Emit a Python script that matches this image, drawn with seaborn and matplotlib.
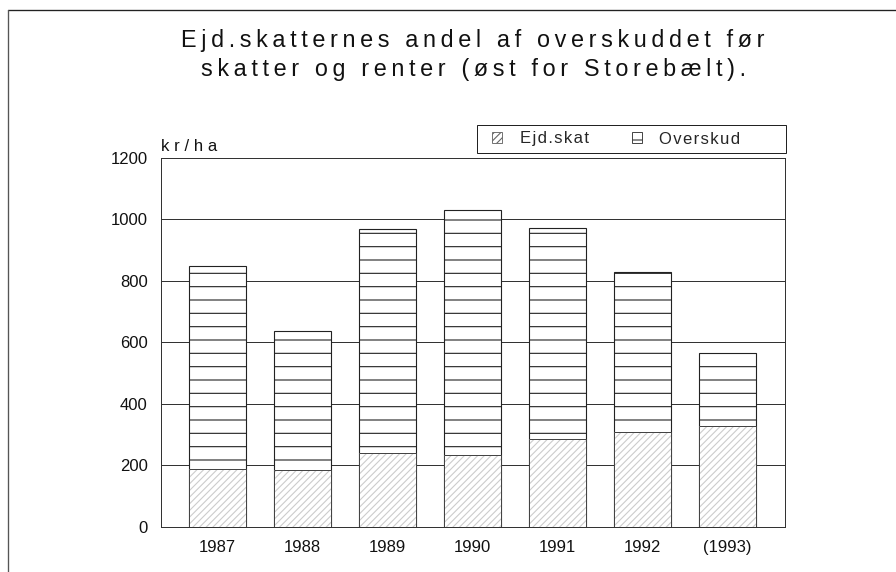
import numpy as np
import matplotlib
matplotlib.use("Agg")
import matplotlib.pyplot as plt
import seaborn as sns
from matplotlib.patches import Patch, Rectangle
from matplotlib.lines import Line2D

# values (kr/ha)
years = ["1987", "1988", "1989", "1990", "1991", "1992", "(1993)"]
ejd_skat = np.array([190, 185, 240, 235, 285, 310, 330])
overskud = np.array([658, 453, 730, 795, 687, 518, 236])
y_ticks = [0, 200, 400, 600, 800, 1000, 1200]

title_lines = ["Ejd.skatternes andel af overskuddet før",
               "skatter og renter (øst for Storebælt)."]
legend_labels = ["Ejd.skat", "Overskud"]
unit_label = "kr/ha"

THIN = "\u2009"
HAIR = "\u200a"


def spaced(s, gap):
    # the old typewriter-ish lettering has wide letter spacing
    return gap.join(s)


sns.set_theme(style="white")
plt.rcParams["font.family"] = ["Liberation Sans", "DejaVu Sans"]
plt.rcParams["hatch.linewidth"] = 1.0

fig = plt.figure(figsize=(11.2, 7.15), dpi=80)
ax = fig.add_axes([0.1797, 0.0787, 0.6963, 0.6451])

totals = ejd_skat + overskud

# whole bar (overskud on top) first, then the tax part over its lower end
sns.barplot(x=years, y=totals, color="white", edgecolor="#222222",
            linewidth=1.0, hatch="-", width=0.67, ax=ax, zorder=2)
sns.barplot(x=years, y=ejd_skat, color="white", edgecolor="#cccccc",
            linewidth=0, hatch="////", width=0.67, ax=ax, zorder=3)
sns.barplot(x=years, y=ejd_skat, fill=False, edgecolor="#444444",
            linewidth=0.9, width=0.67, ax=ax, zorder=4)

ax.set_xlim(-0.66, 6.68)
ax.set_ylim(0, 1200)
ax.set_yticks(y_ticks)
ax.yaxis.grid(True, color="#333333", linewidth=0.9)
ax.set_axisbelow(True)
ax.tick_params(length=0, labelsize=15, pad=12, colors="#111111")
ax.set_xlabel("")
ax.set_ylabel("")
for side in ["left", "right", "top", "bottom"]:
    ax.spines[side].set_visible(True)
    ax.spines[side].set_color("#333333")
    ax.spines[side].set_linewidth(0.9)

ax.text(0.0, 1.01, spaced(unit_label, THIN + HAIR), transform=ax.transAxes,
        ha="left", va="bottom", fontsize=15, color="#111111")

fig.text(0.528, 1 - 47 / 572, spaced(title_lines[0], THIN), ha="center",
         va="baseline", fontsize=21, color="#111111")
fig.text(0.528, 1 - 76 / 572, spaced(title_lines[1], THIN), ha="center",
         va="baseline", fontsize=21, color="#111111")

handles = [
    Patch(facecolor="white", edgecolor="#666666", hatch="////", linewidth=0.8,
          label=spaced(legend_labels[0], HAIR)),
    Patch(facecolor="white", edgecolor="#333333", hatch="-", linewidth=0.8,
          label=spaced(legend_labels[1], HAIR)),
]
leg = ax.legend(handles=handles, ncol=2, loc="center left",
                bbox_to_anchor=(492 / 896, 1 - 139 / 572),
                bbox_transform=fig.transFigure, frameon=False, fontsize=15,
                handlelength=0.6, handleheight=0.6, handletextpad=1.05,
                columnspacing=2.6, borderpad=0, borderaxespad=0)

# legend box, drawn separately so the padding can be uneven like the original
fig.add_artist(Rectangle((477 / 896, 1 - 153 / 572), 309 / 896, 28 / 572,
                         transform=fig.transFigure, fill=False,
                         edgecolor="#222222", linewidth=0.9))

# page frame (top and left edge)
fig.add_artist(Line2D([8 / 896, 1.0], [1 - 10 / 572, 1 - 10 / 572],
                      transform=fig.transFigure, color="#222222", linewidth=1.2))
fig.add_artist(Line2D([8 / 896, 8 / 896], [0.0, 1 - 10 / 572],
                      transform=fig.transFigure, color="#555555", linewidth=1.2))

fig.savefig("out.png", dpi=80)
